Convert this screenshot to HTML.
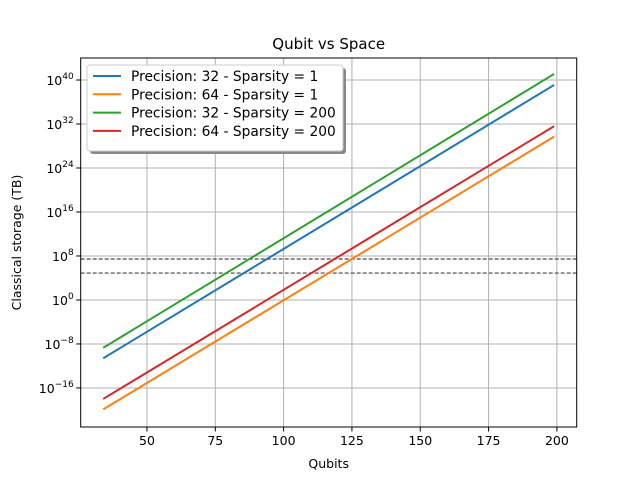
<!DOCTYPE html>
<html><head><meta charset="utf-8"><style>
body{margin:0;background:#fff;font-family:"Liberation Sans","DejaVu Sans",sans-serif}
</style></head><body>
<svg id="c" width="640" height="480" xmlns="http://www.w3.org/2000/svg" font-family="DejaVu Sans, Liberation Sans, sans-serif"></svg>
<script>
const qubits=[34,199];
const blueLog=[-10.6,39.1];
const orangeLog=[-19.9,29.7];
const greenLog=[-8.7,41.1];
const redLog=[-18,31.6];
const seriesNames=["Precision: 32 - Sparsity = 1","Precision: 64 - Sparsity = 1","Precision: 32 - Sparsity = 200","Precision: 64 - Sparsity = 200"];
const xTicks=[50,75,100,125,150,175,200];
const yTickExp=[-16,-8,0,8,16,24,32,40];
const hLinesLog=[7.45,4.9];
const L=80.7,R=576.7,T=58,B=427;
const xMin=25.75,xMax=207.25,yMin=-23.1,yMax=44;
const X=q=>L+(q-xMin)/(xMax-xMin)*(R-L);
const Y=v=>B-(v-yMin)/(yMax-yMin)*(B-T);
const svg=document.getElementById('c');
const NS='http://www.w3.org/2000/svg';
function mk(tag,attrs,parent){const e=document.createElementNS(NS,tag);for(const k in attrs)e.setAttribute(k,attrs[k]);(parent||svg).appendChild(e);return e;}
xTicks.forEach(t=>{const g=mk('line',{x1:X(t),x2:X(t),y1:T,y2:B,stroke:'#b0b0b0','stroke-width':1});

});
yTickExp.forEach(t=>{const g=mk('line',{x1:L,x2:R,y1:Y(t),y2:Y(t),stroke:'#b0b0b0','stroke-width':1});

});
hLinesLog.forEach(v=>{const g=mk('line',{x1:L,x2:R,y1:Y(v),y2:Y(v),stroke:'#666','stroke-width':1.4,'stroke-dasharray':'4,2'});

});
const cols=['#1f77b4','#ff7f0e','#2ca02c','#d62728'];
[blueLog,orangeLog,greenLog,redLog].forEach((s,i)=>{
const p=mk('polyline',{points:qubits.map((q,j)=>X(q)+','+Y(s[j])).join(' '),fill:'none',stroke:cols[i],'stroke-width':2});

});
const f=mk('rect',{x:L,y:T,width:R-L,height:B-T,fill:'none',stroke:'#000','stroke-width':1});


xTicks.forEach(t=>{mk('line',{x1:X(t),x2:X(t),y1:B,y2:B+4.5,stroke:'#000','stroke-width':1});
const tx=mk('text',{x:X(t),y:B+18,'font-size':12.5,'text-anchor':'middle'});tx.textContent=t;

});
yTickExp.forEach(t=>{mk('line',{x1:L-4.5,x2:L,y1:Y(t),y2:Y(t),stroke:'#000','stroke-width':1});
const tx=mk('text',{x:L-7,y:Y(t)+5,'font-size':12.5,'text-anchor':'end'});
tx.innerHTML='10<tspan dy="-6" font-size="9">'+(t<0?'−'+(-t):t)+'</tspan>';

});
let t=mk('text',{x:(L+R)/2,y:49,'font-size':15,'text-anchor':'middle'});t.textContent='Qubit vs Space';

t=mk('text',{x:(L+R)/2,y:468,'font-size':12.5,'text-anchor':'middle'});t.textContent='Qubits';

t=mk('text',{x:21,y:(T+B)/2,'font-size':12.5,'text-anchor':'middle',transform:'rotate(-90 21 '+((T+B)/2)+')'});t.textContent='Classical storage (TB)';

const lg=mk('g',{});
mk('rect',{x:90,y:68,width:256,height:86,rx:3,fill:'#888'},lg);
mk('rect',{x:87,y:65,width:256,height:86,rx:3,fill:'#fff',stroke:'#ccc'},lg);
seriesNames.forEach((n,i)=>{const y=76+i*18.3;
const e=mk('g',{},lg);
mk('line',{x1:93,x2:121,y1:y,y2:y,stroke:cols[i],'stroke-width':2},e);
const tx=mk('text',{x:131,y:y+5,'font-size':13.8},e);tx.textContent=n;});
</script>
</body></html>
